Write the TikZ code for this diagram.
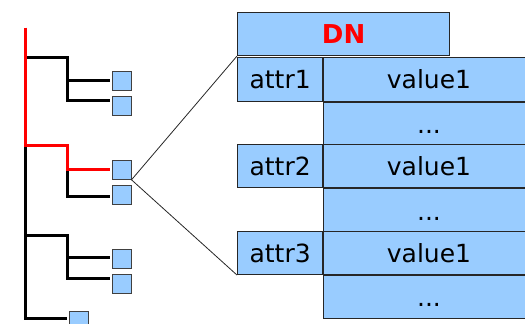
\documentclass[tikz,border=0pt]{standalone}
\usepackage{fontspec}
\setmainfont{DejaVu Sans}
\usetikzlibrary{positioning}
\definecolor{cellblue}{RGB}{153,204,255}
\definecolor{dnred}{RGB}{255,0,0}
\tikzset{
  cell/.style={draw=black!85, fill=cellblue, line width=1pt, inner sep=0pt,
    anchor=north west, minimum height=43.35, text height=19pt, text depth=0pt,
    font=\fontsize{25}{30}\selectfont},
  leaf/.style={draw=black!75, fill=cellblue, line width=1pt, minimum size=19, inner sep=0pt},
  branch/.style={line width=3pt},
  zoomline/.style={line width=0.8pt, black!85}
}

\begin{document}
\begin{tikzpicture}[x=1pt, y=-1pt]
    \useasboundingbox (0,0) rectangle (525,324);
    \clip (0,0) rectangle (525,324);

    % Leaves of the tree
    \node[leaf] (l1) at (121.5, 80.8) {};
    \node[leaf] (l2) at (121.5, 106.3) {};
    \node[leaf] (l3) at (121.5, 169.8) {};
    \node[leaf] (l4) at (121.5, 195.2) {};
    \node[leaf] (l5) at (121.5, 258.5) {};
    \node[leaf] (l6) at (121.5, 284.2) {};
    \node[leaf] (l7) at (79.2, 320.5) {};

    % Trunk and branches
    \draw[branch, shorten >=2.5pt] (25,145.7) -- (25,318.3) -- (25,318.3 -| l7.west);
    \draw[branch, shorten >=2pt] (25,57.7) -| (67.7,100) -- (67.7,100 -| l2.west);
    \draw[branch, shorten >=2pt] (67.7,80.3) -- (67.7,80.3 -| l1.west);
    \draw[branch, shorten >=2pt] (67.7,169.3) -- (67.7,196.7) -- (67.7,196.7 -| l4.west);
    \draw[branch, shorten >=2pt] (25,235.7) -| (67.7,278.3) -- (67.7,278.3 -| l6.west);
    \draw[branch, shorten >=2pt] (67.7,257.7) -- (67.7,257.7 -| l5.west);

    % Path down to the selected entry
    \draw[branch, dnred, shorten >=2pt] (25,27.7) -- (25,145.7) -| (67.7,169.3) -- (67.7,169.3 -| l3.west);

    % Entry: DN and its attributes
    \node[cell, minimum width=212.3, font=\fontsize{26}{30}\selectfont\bfseries, text=dnred]
        (dn) at (237,11.7) {DN};
    \foreach \k/\n in {1/0, 2/2, 3/4} {
        \node[cell, minimum width=85.3] (attr\k) at (237, 57.3+43.35*\n) {attr\k};
        \node[cell, minimum width=210.4] (val\k) at (attr\k.north east) {value1};
        \node[cell, minimum width=210.4] (dots\k) at (val\k.south west) {...};
    }

    % Zoom from the selected leaf
    \draw[zoomline] (l3.south east) -- (dn.south west);
    \draw[zoomline] (l3.south east) -- (attr3.south west);
\end{tikzpicture}
\end{document}
